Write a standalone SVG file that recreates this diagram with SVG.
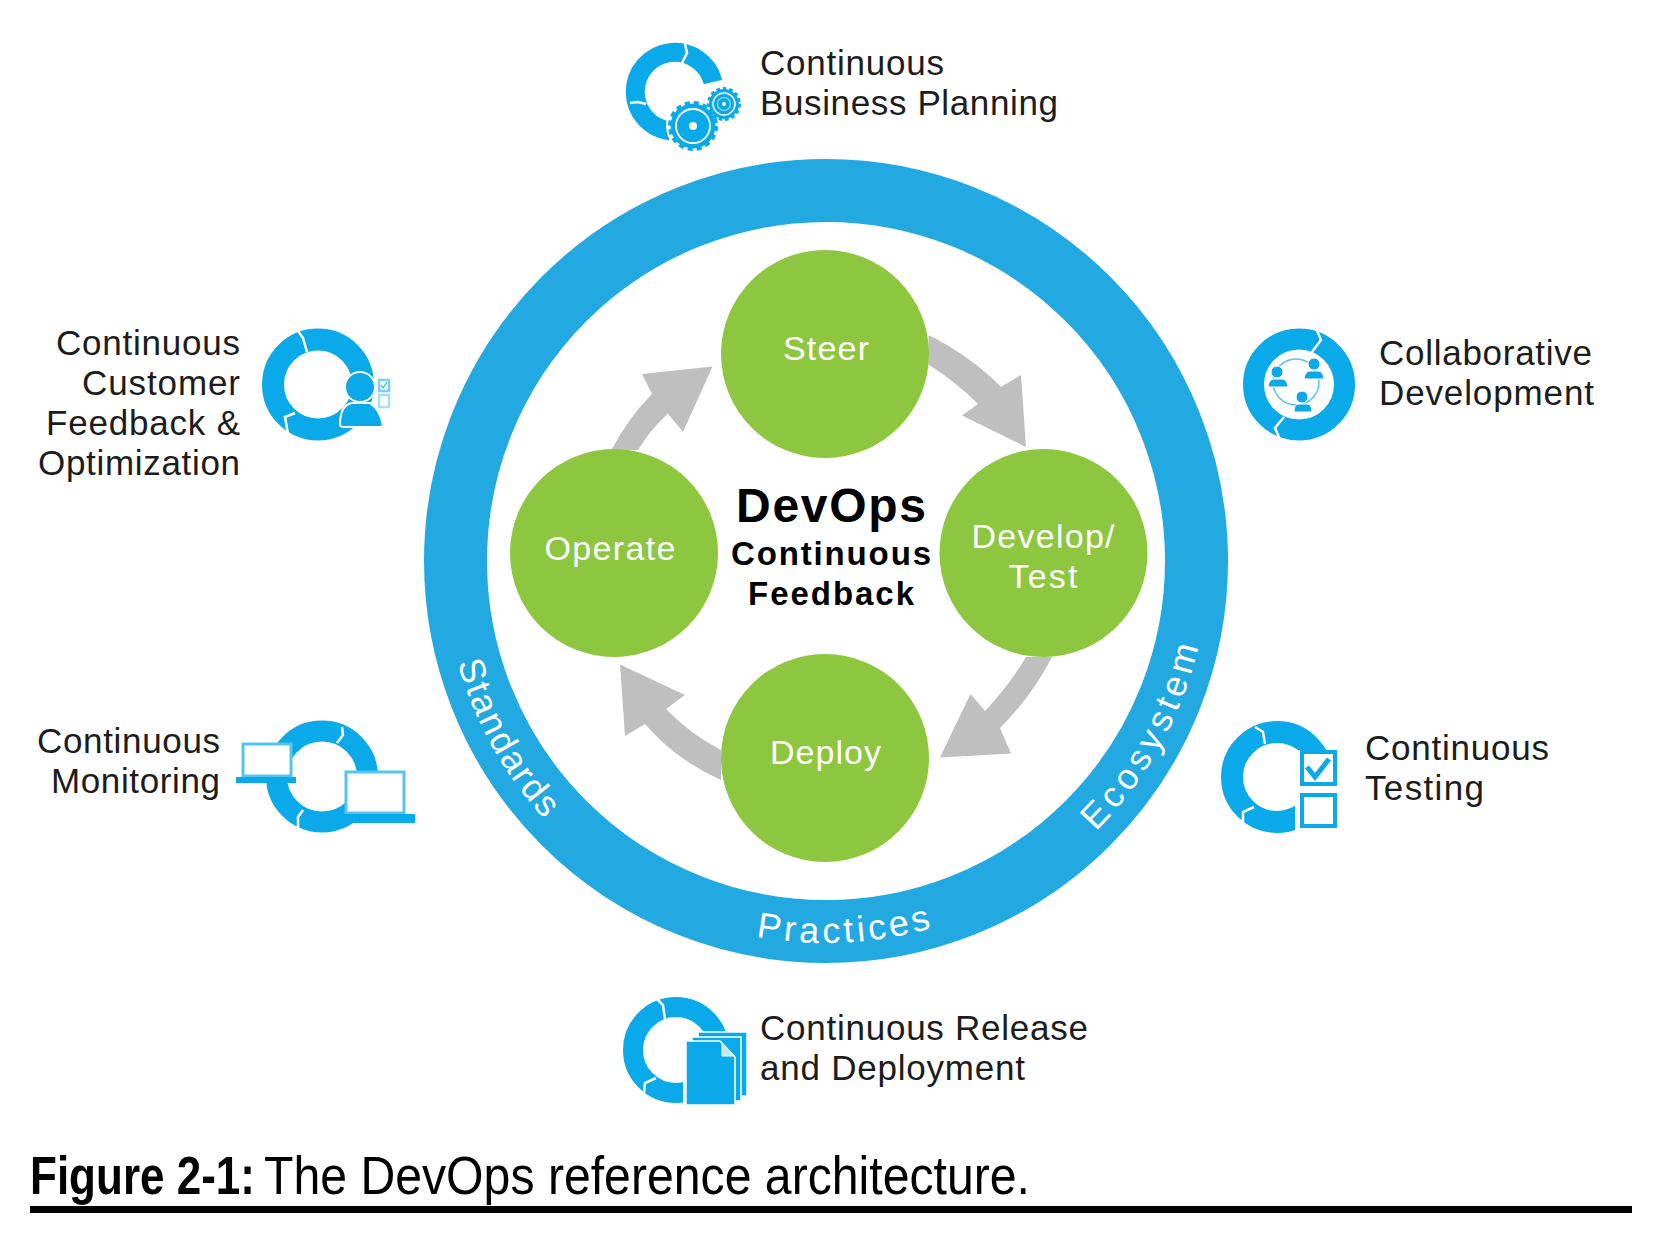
<svg xmlns="http://www.w3.org/2000/svg" xmlns:xlink="http://www.w3.org/1999/xlink" width="1662" height="1236" viewBox="0 0 1662 1236">
<style>
text{font-family:"Liberation Sans",Arial,sans-serif}
.lbl{font-size:35px;fill:#1c1c1c}
.end{text-anchor:end}
.g{fill:#8DC63F}
.wt{font-size:34px;fill:#fff;text-anchor:middle}
.bk{font-weight:bold;fill:#000;text-anchor:middle}
.band{font-size:36px;fill:#fff}
.ring{fill:none;stroke:#0AA9E9}
.gap{fill:none;stroke:#fff;stroke-width:2.5}
.b{fill:#0AA9E9}
.l{fill:#fff;stroke:#55C5F0;stroke-width:3}
.arrow{fill:#BFBFBF}
</style>
<defs>
<path id="bandPath" d="M444 561A382 382 0 0 0 1208 561"/>
</defs>
<rect width="1662" height="1236" fill="#fff"/>
<g id="practices-ring">
<circle cx="826" cy="561" r="370.5" fill="none" stroke="#22A9E1" stroke-width="63"/>
<text class="band" textLength="180"><textPath href="#bandPath" xlink:href="#bandPath" startOffset="103">Standards</textPath></text>
<text class="band" textLength="178"><textPath href="#bandPath" xlink:href="#bandPath" startOffset="529">Practices</textPath></text>
<text class="band" textLength="214"><textPath href="#bandPath" xlink:href="#bandPath" startOffset="899">Ecosystem</textPath></text>
</g>
<g id="connectors">
<path class="arrow" d="M928.5 335Q972 357 1001 387L1021 375L1026 447L962 415.5L978 404Q956 382 928.5 364.5Z"/>
<path class="arrow" d="M1052 657Q1032 696 1000 728L1011 753.5L940 757.5L970.5 694L985 711Q1010 684 1026 657Z"/>
<path class="arrow" d="M721 750Q690 734 666 709L685 695L620 664.5L625 736L645 724Q676 760 721 780Z"/>
<path class="arrow" d="M611.5 450Q628 418 652 394L642 374L712.5 366.5L683 432L668 413.5Q650 430 638 450Z"/>
</g>
<g id="steer"><circle class="g" cx="825" cy="354" r="104"/><text class="wt" x="826" y="360" textLength="86">Steer</text></g>
<g id="develop-test"><circle class="g" cx="1043.5" cy="553" r="104"/><text class="wt" x="1043" y="548" textLength="143">Develop/</text><text class="wt" x="1043" y="588" textLength="69">Test</text></g>
<g id="deploy"><circle class="g" cx="825" cy="758" r="104"/><text class="wt" x="825.500" y="764" textLength="111">Deploy</text></g>
<g id="operate"><circle class="g" cx="614" cy="553" r="104"/><text class="wt" x="610" y="560" textLength="131">Operate</text></g>
<g id="center">
<text class="bk" x="831" y="522" font-size="48" textLength="190">DevOps</text>
<text class="bk" x="831" y="565" font-size="33" textLength="200">Continuous</text>
<text class="bk" x="831" y="605" font-size="33" textLength="166">Feedback</text>
</g>
<g id="business-planning">
<path class="ring" stroke-width="19" d="M713 82A39.500 39.500 0 1 0 670 131"/>
<path class="gap" d="M685 44L687 53L682 63M630 103L638 102L646 104"/>
<circle cx="693" cy="126" r="27" fill="#fff"/>
<circle cx="724" cy="104" r="19" fill="#fff"/>
<circle cx="693" cy="126" r="22.500" fill="#0AA9E9" stroke="#0AA9E9" stroke-width="5" stroke-dasharray="5 3.84"/>
<circle cx="693" cy="126" r="17" fill="none" stroke="#fff" stroke-width="1.800"/>
<circle cx="693" cy="126" r="4" fill="#fff"/>
<circle cx="724" cy="104" r="15" fill="#0AA9E9" stroke="#0AA9E9" stroke-width="4" stroke-dasharray="3.500 2.780"/>
<circle cx="724" cy="104" r="11" fill="none" stroke="#fff" stroke-width="1.500"/>
<circle cx="724" cy="104" r="6.500" fill="none" stroke="#9FDDF6" stroke-width="1.200"/>
<circle cx="724" cy="104" r="2" fill="#fff"/>
<text class="lbl" x="760" y="75" textLength="184">Continuous</text>
<text class="lbl" x="760" y="115" textLength="298">Business Planning</text>
</g>
<g id="customer-feedback">
<circle class="ring" cx="318" cy="384.500" r="45" stroke-width="22"/>
<path class="gap" d="M298 331L303 338L307 352M295 413L285 417L288 434"/>
<path class="b" d="M340 425Q340 405 352 403H370Q380 410 383 425Q383 427 378 427H345Q340 427 340 425Z" stroke="#fff" stroke-width="2"/>
<circle class="b" cx="360" cy="387" r="15" stroke="#fff" stroke-width="2"/>
<rect x="379" y="380" width="10" height="11" fill="#fff" stroke="#7AD0F3" stroke-width="2.500"/>
<path d="M381 385L383 388L387 382" fill="none" stroke="#55C5F0" stroke-width="1.500"/>
<rect x="379" y="395" width="10" height="12" fill="#fff" stroke="#A6E0F7" stroke-width="2.500"/>
<text class="lbl end" x="240" y="355" textLength="184">Continuous</text>
<text class="lbl end" x="240" y="395" textLength="158">Customer</text>
<text class="lbl end" x="240" y="435" textLength="194">Feedback &amp;</text>
<text class="lbl end" x="240" y="475" textLength="202">Optimization</text>
</g>
<g id="collaborative-development">
<circle class="ring" cx="1299" cy="384.500" r="45.500" stroke-width="21"/>
<path class="gap" d="M1316 328L1321 340L1312 352M1284 417L1275 428L1281 442"/>
<circle cx="1296" cy="382" r="23" fill="none" stroke="#55C5F0" stroke-width="1.500"/>
<g class="b">
<path d="M1268 387Q1269 379 1274 379H1282Q1287 379 1288 387Z" stroke="#fff"/><circle cx="1277" cy="372" r="6" stroke="#fff"/>
<path d="M1304 379Q1305 371 1310 371H1318Q1323 371 1324 379Z" stroke="#fff"/><circle cx="1314" cy="364" r="6" stroke="#fff"/>
<path d="M1294 412Q1294 404 1299 404H1307Q1312 404 1312 412Z" stroke="#fff"/><circle cx="1302" cy="397" r="6" stroke="#fff"/>
</g>
<text class="lbl" x="1379" y="365" textLength="213">Collaborative</text>
<text class="lbl" x="1379" y="405" textLength="215">Development</text>
</g>
<g id="continuous-monitoring">
<circle class="ring" cx="322" cy="776.500" r="45.500" stroke-width="21"/>
<path class="gap" d="M342 727L343 735L337 743M303 810L298 817L298 832"/>
<rect x="243" y="744" width="48" height="32" class="l"/>
<rect x="236" y="777" width="60" height="6" class="b"/>
<rect x="346" y="772" width="58" height="41" class="l"/>
<rect x="338" y="814" width="77" height="9" class="b"/>
<text class="lbl end" x="220" y="753" textLength="183">Continuous</text>
<text class="lbl end" x="220" y="793" textLength="169">Monitoring</text>
</g>
<g id="continuous-testing">
<circle class="ring" cx="1277" cy="777" r="45" stroke-width="22"/>
<path class="gap" d="M1255 727L1263 732L1265 744M1254 807L1243 812L1243 823"/>
<rect x="1295" y="750" width="46" height="90" fill="#fff"/>
<rect x="1302" y="752" width="33" height="32" fill="#fff" stroke="#0AA9E9" stroke-width="4"/>
<path d="M1307 767L1315 777L1329 759" fill="none" stroke="#0AA9E9" stroke-width="5"/>
<rect x="1302" y="795" width="33" height="31" fill="#fff" stroke="#0AA9E9" stroke-width="4"/>
<text class="lbl" x="1365" y="760" textLength="184">Continuous</text>
<text class="lbl" x="1365" y="800" textLength="119">Testing</text>
</g>
<g id="release-deployment">
<circle class="ring" cx="676" cy="1050" r="43" stroke-width="20"/>
<path class="gap" d="M657 999L663 1005L665 1019M656 1078L645 1083L644 1093"/>
<rect x="683" y="1032" width="64" height="76" fill="#fff"/>
<path class="b" d="M698 1032H747V1096H698Z" stroke="#fff" stroke-width="1.500"/>
<path class="b" d="M692 1037H741V1101H692Z" stroke="#fff" stroke-width="1.500"/>
<path class="b" d="M686 1041H720L735 1057V1105H686Z" stroke="#fff" stroke-width="1.500"/>
<path d="M722 1043V1056H734Z" fill="#BDE9FA" stroke="#fff" stroke-width="1"/>
<text class="lbl" x="760" y="1040" textLength="328">Continuous Release</text>
<text class="lbl" x="760" y="1080" textLength="265">and Deployment</text>
</g>
<g id="caption">
<text x="30" y="1194" font-size="53" font-weight="bold" fill="#000" textLength="225" lengthAdjust="spacingAndGlyphs">Figure 2-1:</text>
<text x="264" y="1194" font-size="53" fill="#000" textLength="766" lengthAdjust="spacingAndGlyphs">The DevOps reference architecture.</text>
<rect x="30" y="1206" width="1602" height="7" fill="#000"/>
</g>
</svg>
